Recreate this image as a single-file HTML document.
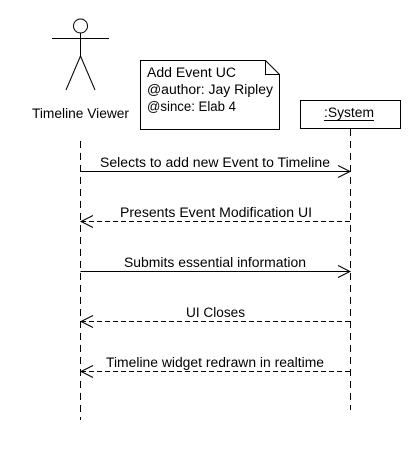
<!DOCTYPE html>
<html><head><style>html,body{margin:0;padding:0;background:#fff;}</style></head>
<body>
<svg width="420" height="460" xmlns="http://www.w3.org/2000/svg" font-family="Liberation Sans, Arial, sans-serif" font-size="13.5" fill="#000">
<rect width="420" height="460" fill="#fff"/>
<g stroke="#000" stroke-width="1" fill="none">
<circle cx="80.5" cy="26" r="7"/>
<line x1="52" y1="38.5" x2="109" y2="38.5"/>
<line x1="80.5" y1="33" x2="80.5" y2="56"/>
<line x1="80.5" y1="56" x2="66" y2="90"/>
<line x1="80.5" y1="56" x2="95" y2="90"/>
<path d="M140.5 60.5 H265.5 L279.5 74.5 V129.5 H140.5 Z" fill="#fff"/>
<path d="M265.5 60.5 V74.5 H279.5"/>
<rect x="300.5" y="100.5" width="100" height="28" fill="#fff"/>
<line x1="80.5" y1="141" x2="80.5" y2="420" stroke-dasharray="7,5"/>
<line x1="350.5" y1="129" x2="350.5" y2="410" stroke-dasharray="7,5"/>
<line x1="80.5" y1="171.5" x2="350" y2="171.5"/>
<path d="M338 165.5 L350 171.5 L338 177.5"/>
<line x1="81" y1="221.5" x2="350" y2="221.5" stroke-dasharray="5,3"/>
<path d="M93 215.5 L81 221.5 L93 227.5"/>
<line x1="80.5" y1="271.5" x2="350" y2="271.5"/>
<path d="M338 265.5 L350 271.5 L338 277.5"/>
<line x1="81" y1="321.5" x2="350" y2="321.5" stroke-dasharray="5,3"/>
<path d="M93 315.5 L81 321.5 L93 327.5"/>
<line x1="81" y1="371.5" x2="350" y2="371.5" stroke-dasharray="5,3"/>
<path d="M93 365.5 L81 371.5 L93 377.5"/>
<line x1="324" y1="120.5" x2="374" y2="120.5"/>
</g>
<text x="32" y="118" textLength="97" lengthAdjust="spacingAndGlyphs">Timeline Viewer</text>
<text x="147" y="77" textLength="89" lengthAdjust="spacingAndGlyphs">Add Event UC</text>
<text x="147" y="94" textLength="126" lengthAdjust="spacingAndGlyphs">@author: Jay Ripley</text>
<text x="147" y="111" textLength="89" lengthAdjust="spacingAndGlyphs">@since: Elab 4</text>
<text x="324" y="117" textLength="50" lengthAdjust="spacingAndGlyphs">:System</text>
<text x="100" y="167" textLength="230" lengthAdjust="spacingAndGlyphs">Selects to add new Event to Timeline</text>
<text x="120" y="217" textLength="192" lengthAdjust="spacingAndGlyphs">Presents Event Modification UI</text>
<text x="124" y="267" textLength="182" lengthAdjust="spacingAndGlyphs">Submits essential information</text>
<text x="186" y="317" textLength="59" lengthAdjust="spacingAndGlyphs">UI Closes</text>
<text x="106" y="367" textLength="218" lengthAdjust="spacingAndGlyphs">Timeline widget redrawn in realtime</text>
</svg>
</body></html>
